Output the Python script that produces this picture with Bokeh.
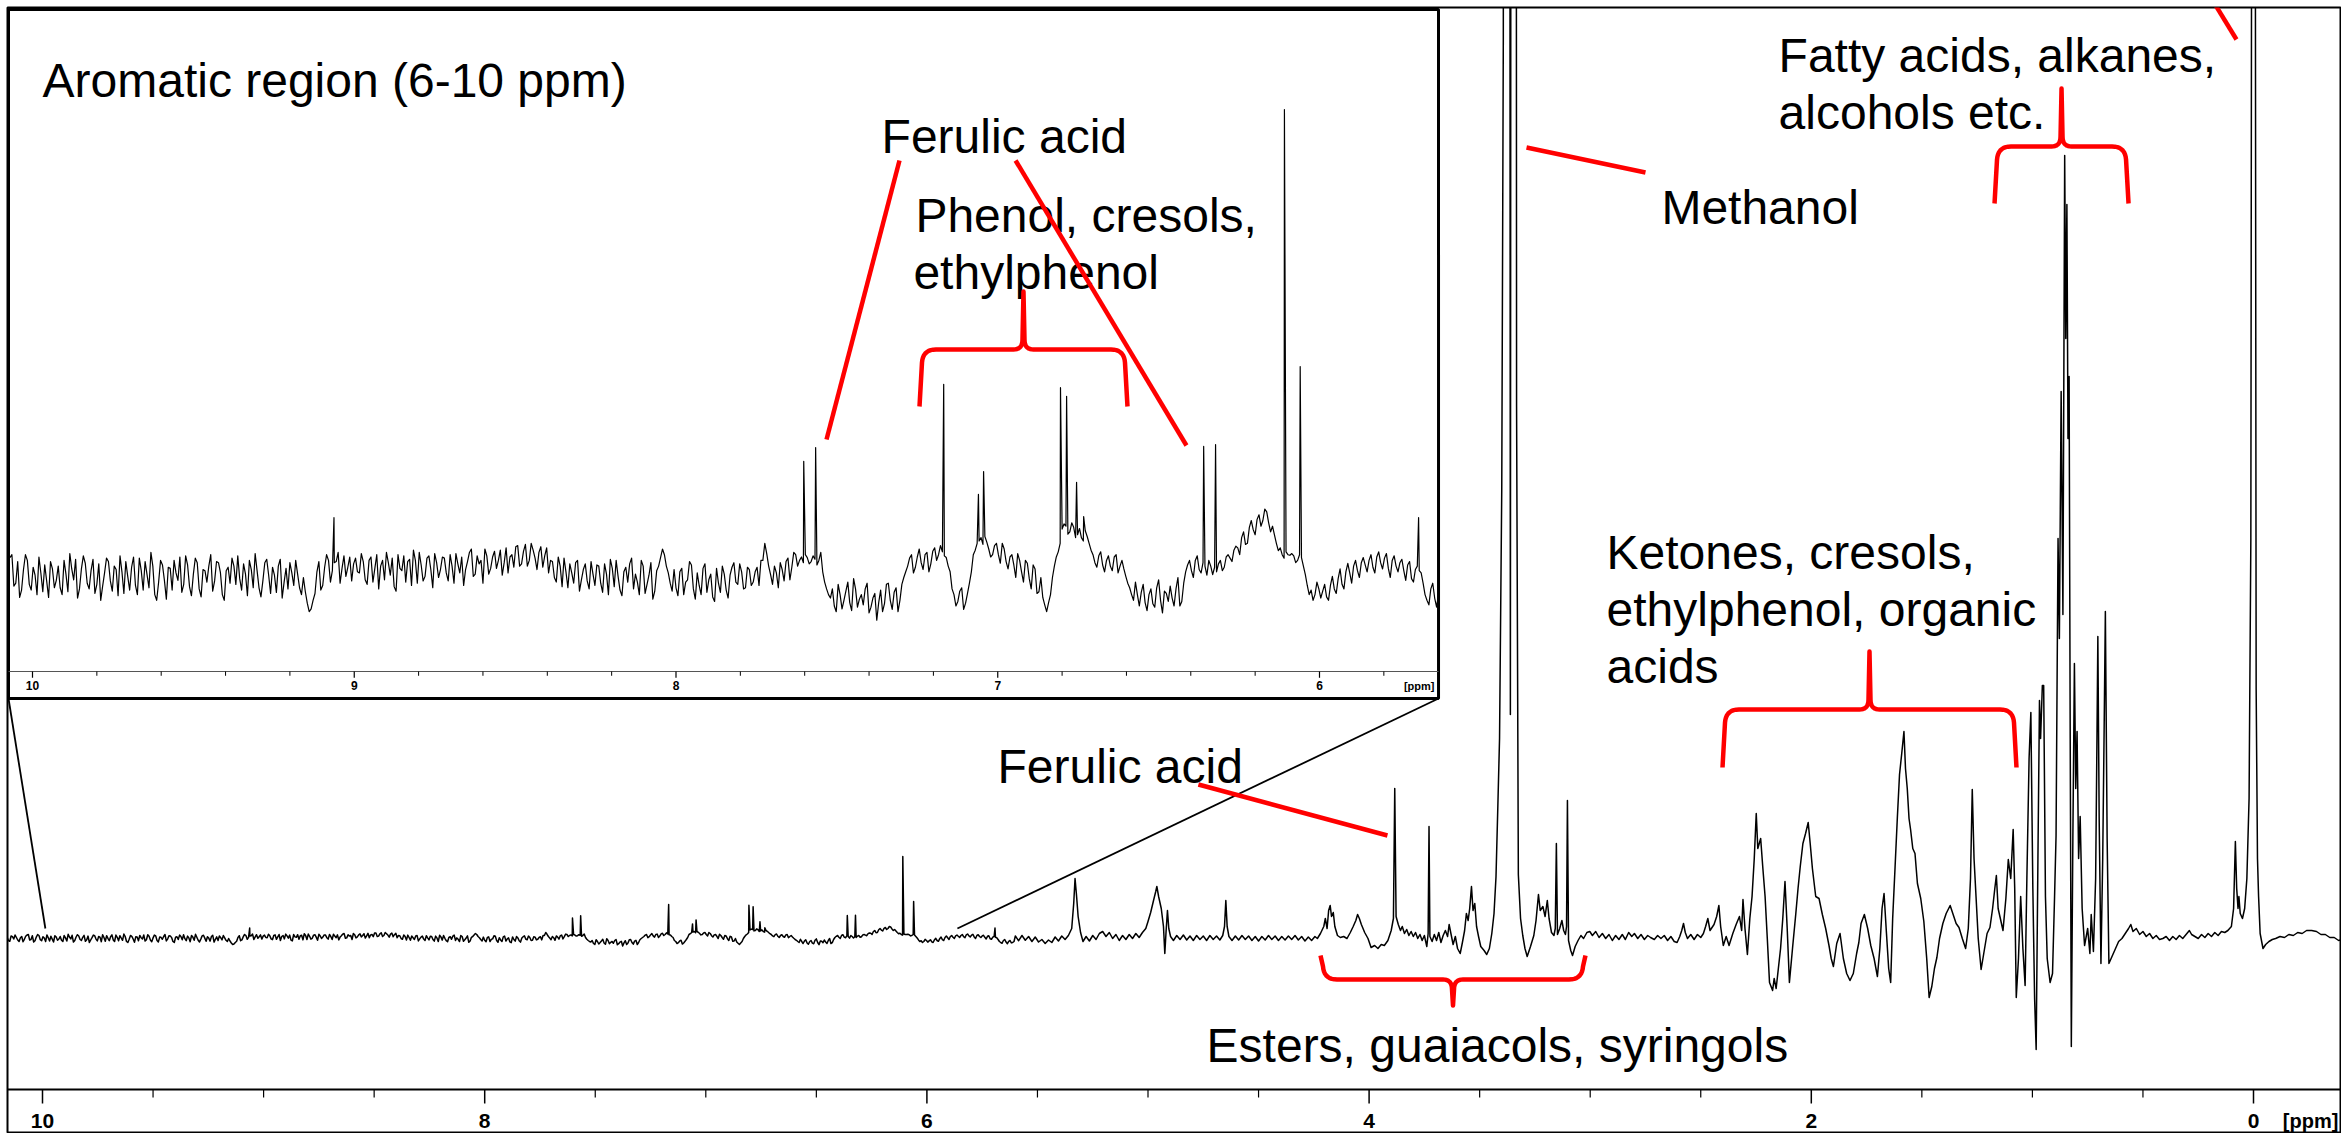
import numpy as np
from bokeh.plotting import figure
from bokeh.models import Range1d
from bokeh.core.properties import value
from bokeh.embed import file_html
from bokeh.resources import INLINE

# ---------------- data ----------------
# Aromatic part of the 1H spectrum, read on a 0.012 ppm grid from 10.16 ppm
# (A_TENTHS) plus the half-step samples between them (A_TENTHS_HALF);
# intensities in tenths of a main-plot unit
A_START = 10.16
A_STEP = 0.012
A_TENTHS = [
    12, -28, 18, 35, -15, 8, -32, 22, 40, -10, -35, 14, 30, -22, 4, 36, -25, -6, 28, -18,
    20, -30, 6, 42, -4, -36, 15, 25, -20, 32, -12, -40, 8, 28, -24, 14, 38, -28, 2, 18,
    -14, 34, -22, 5, 44, -30, -8, 22, -38, 16, 30, -5, -26, 38, -16, 6, 26, -34, 12, 20,
    -24, 28, 9, -40, 18, 34, -12, -2, 24, -32, 14, 42, -18, -6, 32, -28, 4, 20, -36, 16,
    26, -14, 6, -30, -25, -60, -40, 10, -22, 18, 30, 12, 28, -10, 38, 18, -6, 34, 8, 28,
    -12, 36, 16, -20, 30, 44, 4, -16, 40, 12, -8, 32, 48, -10, 22, 2, 38, -18, 26, 14,
    34, -6, 20, 42, 8, -14, 28, 50, 6, 24, -10, 38, 16, 46, 30, 4, 52, 36, 18, 56,
    24, 58, 30, 48, 14, 54, 38, 8, 28, -8, 20, 34, -18, 8, 26, -24, 14, -6, 28, -14,
    20, -26, 6, 32, -16, 2, -32, 18, 24, -20, -8, 30, -28, 4, -38, 12, 35, 40, 8, -24,
    -18, 10, -30, -4, 22, -38, -14, 16, -26, 6, -42, -10, 20, -22, 4, 26, -12, 10, -18, 14,
    -8, 18, 30, 60, 20, -12, 8, 26, -6, 34, 18, 40, 30, 26, 35, 28, 32, 30, 10, -20,
    -36, -50, -12, -55, -24, -44, -2, -52, -30, -20, -62, -36, -75, -22, -46, -10, -56, -18, -40, 0,
    20, 40, 18, 50, 14, 44, 24, 52, 40, 45, 35, 10, -30, -42, -18, -45, -10, 40, 60, 70,
    72, 50, 40, 60, 25, 50, 15, 40, 0, 30, -8, 25, -20, 15, -25, -35, -60, -30, 20, 45,
    85, 90, 80, 88, 75, 70, 82, 60, 40, 18, 45, 10, 38, 12, 40, 20, 15, -10, -30, -8,
    -50, -12, -58, -20, -52, -4, -62, -28, -15, -50, 0, -42, 10, 30, 0, 38, 8, 20, 30, 5,
    10, 30, 18, 40, 28, 55, 40, 80, 60, 100, 75, 110, 100, 115, 80, 75, 47, 40, 45, 39,
    38, 30, 35, 5, -30, -40, -8, -36, -12, -40, 2, -28, 15, -20, 25, -10, 30, 0, 35, 10,
    40, 8, 45, 15, 42, 0, 38, 10, 32, -5, 28, -8, 20, 8, -30, -48, -10, -52, -20, -40,
]
A_TENTHS_HALF = [
    -20, 25, -5, 10, -30, 20, -8, 35, -15, 28, -22, 40, -12, 18, -30, 8, 22, -35, 15, -5,
    -18, 30, -25, 15, 32, -20, 38, -10, 12, -28, 24, -15, 34, -6, 20, -32, 10, 28, -22, 36,
    -30, 12, 28, -18, 20, -40, 30, -5, 18, -22, 8, 36, -12, 22, -32, 34, -20, 14, -8, 40,
    -6, 26, -30, 12, -10, 20, 38, -22, 6, 30, -18, 12, -34, 26, 4, 18, -26, 32, -8, -20,
    8, 30, -18, 0, -45, -55, -28, 28, -14, 40, -8, 26, 44, 16, 2, 36, 24, 10, 42, -4,
    30, -8, 40, 20, -4, 26, 34, -24, 16, 38, 28, -14, 30, 44, -6, 34, 14, 42, 0, 36,
    8, 40, -10, 24, 36, 14, 44, 2, 38, 30, 50, 6, 36, 16, 48, 26, 8, 40, 54, 20,
    46, 20, 60, 34, 44, 18, 52, 30, 0, 36, -16, 10, 24, -10, 30, -4, 24, -20, 6, 22,
    -10, 24, -30, 16, 30, -22, 10, -8, 34, 6, -30, 20, -12, 26, -24, 20, 50, 20, -10, 14,
    -32, 16, -8, 28, -20, 8, -30, 24, -4, -34, 16, -26, 6, -36, 18, -8, 24, -20, 18, -14,
    10, -14, 30, 42, 5, 20, -18, 14, 28, -4, 44, 20, 36, 40, 24, 38, 22, 44, -8, -30,
    -20, -60, -30, -40, -8, -58, -20, -38, -48, -10, -52, -28, -44, -60, -12, -40, -26, -60, -12, 10,
    34, 8, 36, 26, 40, 10, 46, 30, 56, 38, 20, -20, -50, -24, -56, -28, 10, 48, 64, 58,
    62, 36, 56, 40, 60, 28, 36, 22, 42, 10, 30, -2, 22, -28, 0, -48, -44, 0, 36, 60,
    94, 76, 96, 70, 86, 64, 72, 48, 26, 38, 22, 30, 20, 36, 8, 30, 2, -18, -40, -30,
    -26, -44, -30, -46, -18, -40, -24, -42, -36, -20, -50, -10, 22, 12, 30, 14, 26, 4, 20, 18,
    24, 12, 36, 34, 48, 52, 70, 58, 88, 84, 102, 90, 120, 96, 90, 60, 52, 34, 40, 42,
    26, 40, 20, -14, -22, -30, -20, -24, -34, -14, -20, -2, -12, 10, 8, 20, 12, 26, 22, 30,
    18, 36, 26, 34, 16, 30, 20, 26, 12, 22, -2, 14, 12, -10, -40, -20, -36, -28, -44, -30,
]
# sharp aromatic lines (ppm, height)
A_PEAK_PPM = [9.063, 7.603, 7.566, 7.168, 7.060, 7.044, 6.805, 6.786, 6.755, 6.733,
              6.360, 6.323, 6.109, 6.060, 5.692]
A_PEAK_INT = [10.5, 20.4, 22.8, 33.9, 14.6, 18.6, 33.3, 31.8, 16.7, 10.7,
              23.0, 23.3, 82.1, 37.0, 10.5]

# aliphatic part of the spectrum: (ppm, intensity) vertices
SPEC_B = [
    (5.600, 2.5), (5.585, -2.2), (5.570, 3.0), (5.555, -1.8), (5.540, 2.0), (5.525, -3.0),
    (5.510, 1.5), (5.495, -3.5), (5.480, -1.0), (5.465, -5.0), (5.450, -1.5), (5.435, -4.0),
    (5.420, 1.5), (5.405, -2.5), (5.390, 2.5), (5.375, -1.0), (5.360, 3.0),
    (5.345, 10), (5.336, 35), (5.330, 60), (5.324, 45), (5.316, 22), (5.305, 6), (5.294, -3),
    (5.280, 2), (5.265, -2.5), (5.250, 3), (5.235, -1), (5.220, 5), (5.205, 7), (5.190, 2),
    (5.175, 6), (5.160, 0), (5.145, 4), (5.130, -2), (5.115, 3), (5.100, -1), (5.085, 4),
    (5.070, 0), (5.055, 5), (5.040, 1), (5.025, 6), (5.010, 10), (5.000, 17), (4.988, 26),
    (4.975, 38), (4.965, 47), (4.960, 52), (4.952, 42), (4.940, 30), (4.930, 12), (4.924, -15),
    (4.918, 8), (4.912, 28), (4.906, 10), (4.898, 2), (4.885, -2), (4.870, 3), (4.855, -1),
    (4.840, 3.5), (4.825, -1.5), (4.810, 2.5), (4.795, -2), (4.780, 3), (4.765, -1), (4.750, 2.5),
    (4.735, -2), (4.720, 3), (4.705, -1), (4.690, 2.5), (4.675, -1.5), (4.662, 3), (4.654, 12),
    (4.648, 38), (4.642, 12), (4.634, 2), (4.620, -2), (4.605, 2.5), (4.590, -1.5), (4.575, 3),
    (4.560, -1), (4.545, 2.5), (4.530, -2), (4.515, 2), (4.500, -2.5), (4.485, 2), (4.470, -1.5),
    (4.455, 3), (4.440, -1), (4.425, 2.5), (4.410, -2), (4.395, 2), (4.380, -1.5), (4.365, 2.5),
    (4.350, -1), (4.335, 3), (4.320, -1.5), (4.305, 2), (4.290, -2.5), (4.275, 1.5), (4.260, -2),
    (4.245, 2), (4.234, 0), (4.220, 5), (4.205, 12), (4.198, 20), (4.190, 10), (4.183, 28),
    (4.176, 33), (4.170, 22), (4.162, 26), (4.155, 12), (4.143, 3), (4.130, 1), (4.115, 2),
    (4.100, 0), (4.085, 6), (4.072, 12), (4.060, 18), (4.052, 24), (4.044, 20), (4.035, 14),
    (4.020, 6), (4.005, 0), (3.991, -9), (3.975, -7), (3.960, -10), (3.945, -6), (3.931, -7),
    (3.915, -2), (3.900, 8), (3.890, 20), (3.884, 150), (3.878, 22), (3.868, 14), (3.858, 8),
    (3.850, 12), (3.840, 5), (3.830, 9), (3.820, 3), (3.810, 7), (3.800, 2), (3.790, 6),
    (3.780, 0), (3.770, 4), (3.760, -2), (3.750, 3), (3.739, -8), (3.733, 5), (3.729, 112),
    (3.725, 2), (3.715, -3), (3.705, 4), (3.695, -2), (3.685, 6), (3.675, -4), (3.665, 3),
    (3.655, 8), (3.645, 2), (3.638, 14), (3.630, 5), (3.620, -6), (3.610, 2), (3.600, -10),
    (3.588, -15), (3.578, -4), (3.568, 8), (3.560, 25), (3.552, 18), (3.545, 30), (3.537, 52),
    (3.530, 28), (3.522, 35), (3.514, 12), (3.505, 2), (3.495, -8), (3.480, -12), (3.468, -16),
    (3.456, -10), (3.445, 5), (3.435, 25), (3.426, 62), (3.418, 130), (3.410, 200), (3.400, 450),
    (3.393, 900), (3.388, 3000), (3.368, 3000), (3.361, 224), (3.354, 3000), (3.338, 3000),
    (3.333, 532), (3.325, 64), (3.315, 20), (3.305, 3), (3.295, -10), (3.285, -18), (3.270, -8),
    (3.255, 3), (3.245, 18), (3.234, 44), (3.226, 28), (3.214, 32), (3.204, 22), (3.194, 38),
    (3.186, 20), (3.175, 6), (3.164, 3), (3.158, 10), (3.153, 95), (3.148, 4), (3.138, 10),
    (3.128, 18), (3.120, 8), (3.112, 4), (3.107, 12), (3.103, 138), (3.098, -2), (3.088, -12),
    (3.080, -17), (3.068, -8), (3.055, -2), (3.042, 3), (3.030, 0), (3.015, 6), (3.002, 7),
    (2.990, 3), (2.975, 7), (2.960, 1), (2.945, 5), (2.930, 0), (2.915, 4), (2.900, -2),
    (2.885, 3), (2.870, -1), (2.855, 4), (2.841, -1), (2.826, 6), (2.812, 2), (2.800, 5),
    (2.785, 0), (2.770, 4), (2.755, -1), (2.740, 3), (2.727, 1), (2.710, -1), (2.695, 3),
    (2.680, 0), (2.665, 3), (2.650, -2), (2.635, 2), (2.620, -3), (2.607, -4), (2.595, 2),
    (2.586, 8), (2.578, 15), (2.570, 6), (2.560, 0), (2.545, 4), (2.530, -1), (2.515, 4),
    (2.500, 1), (2.488, 5), (2.478, 12), (2.468, 20), (2.458, 8), (2.440, 14), (2.428, 22),
    (2.418, 33), (2.410, 12), (2.398, -7), (2.385, 2), (2.372, -7), (2.355, 5), (2.340, 14),
    (2.325, 22), (2.315, 8), (2.309, 39), (2.300, 10), (2.289, -16), (2.278, 20), (2.268, 42),
    (2.258, 80), (2.249, 125), (2.242, 90), (2.229, 100), (2.219, 70), (2.209, 42), (2.199, 0),
    (2.189, -44), (2.175, -52), (2.168, -40), (2.159, -50), (2.149, -30), (2.139, -10),
    (2.129, 20), (2.119, 57), (2.109, 10), (2.099, -44), (2.085, -10), (2.070, 25), (2.060, 50),
    (2.050, 72), (2.038, 95), (2.026, 105), (2.014, 116), (2.005, 95), (1.995, 70), (1.980, 42),
    (1.965, 40), (1.950, 24), (1.935, 10), (1.920, -7), (1.910, -20), (1.900, -28), (1.885, -5),
    (1.870, 5), (1.855, -20), (1.840, -35), (1.825, -42), (1.810, -35), (1.795, -15),
    (1.785, -4), (1.775, 15), (1.760, 24), (1.745, 10), (1.731, -7), (1.716, -20), (1.701, -38),
    (1.690, -10), (1.680, 30), (1.671, 45), (1.660, 5), (1.650, -30), (1.641, -44), (1.632, 20),
    (1.621, 72), (1.611, 120), (1.601, 164), (1.591, 185), (1.581, 207), (1.574, 170),
    (1.566, 150), (1.558, 120), (1.551, 109), (1.541, 90), (1.531, 85), (1.520, 55),
    (1.505, 40), (1.491, 17), (1.478, -20), (1.467, -59), (1.455, -48), (1.443, -30),
    (1.432, -19), (1.420, 0), (1.405, 15), (1.390, 25), (1.372, 33), (1.360, 25), (1.345, 15),
    (1.332, 11), (1.317, 0), (1.302, -10), (1.290, 10), (1.280, 60), (1.272, 149), (1.264, 80),
    (1.255, 42), (1.245, 0), (1.232, -31), (1.220, -15), (1.205, 5), (1.192, 11), (1.180, 30),
    (1.170, 50), (1.163, 63), (1.155, 30), (1.145, 20), (1.133, 8), (1.120, 40), (1.109, 79),
    (1.098, 60), (1.087, 109), (1.080, 50), (1.073, -59), (1.063, -20), (1.053, 42),
    (1.043, -10), (1.033, -47), (1.025, 60), (1.015, 180), (1.007, 226), (0.998, 50),
    (0.990, -60), (0.983, -111), (0.975, 80), (0.968, 238), (0.963, 200), (0.955, 253),
    (0.949, 253), (0.941, 42), (0.933, -20), (0.920, -44), (0.909, -35), (0.900, 40),
    (0.893, 103), (0.884, 400), (0.878, 300), (0.870, 547), (0.862, 324), (0.854, 783),
    (0.849, 600), (0.844, 734), (0.839, 500), (0.834, 562), (0.829, 200), (0.824, -108),
    (0.817, 100), (0.810, 275), (0.804, 150), (0.798, 207), (0.791, 80), (0.784, 122),
    (0.775, 30), (0.764, -7), (0.750, 10), (0.740, -15), (0.734, 24), (0.724, -13), (0.714, 60),
    (0.708, 200), (0.704, 302), (0.698, 120), (0.690, -25), (0.682, 80), (0.676, 200),
    (0.670, 327), (0.662, 100), (0.654, -25), (0.640, -18), (0.624, -10), (0.610, -3),
    (0.595, 0), (0.580, 5), (0.565, 10), (0.555, 14), (0.545, 7), (0.530, 10), (0.515, 4),
    (0.500, 7), (0.485, 2), (0.470, 5), (0.455, 0), (0.440, 3), (0.425, -1), (0.410, 0),
    (0.395, 2), (0.380, -2), (0.365, 2), (0.350, -1), (0.335, 3), (0.320, 0), (0.305, 4),
    (0.290, 8), (0.280, 4), (0.265, 2), (0.250, 0), (0.235, 4), (0.220, 1), (0.205, 5),
    (0.190, 2), (0.175, 6), (0.160, 3), (0.145, 7), (0.130, 6), (0.116, 8), (0.100, 12),
    (0.090, 30), (0.082, 97), (0.076, 50), (0.070, 30), (0.066, 42), (0.060, 25), (0.050, 20),
    (0.040, 30), (0.030, 60), (0.020, 140), (0.012, 400), (0.006, 1500), (0.003, 3000),
    (-0.003, 3000), (-0.006, 1500), (-0.012, 250), (-0.018, 80), (-0.023, 42), (-0.030, 5),
    (-0.043, -10), (-0.055, -6), (-0.070, -3), (-0.085, -1), (-0.100, 0), (-0.120, 2),
    (-0.140, 1), (-0.160, 4), (-0.180, 3), (-0.200, 6), (-0.220, 5), (-0.240, 8), (-0.263, 8),
    (-0.285, 7), (-0.305, 4), (-0.325, 4), (-0.345, 1), (-0.365, 1), (-0.385, -2), (-0.400, -1),
]

MAIN_TICKS = [10, 8, 6, 4, 2, 0]
MAIN_TICK_LABELS = ["10", "8", "6", "4", "2", "0"]
MAIN_MINOR_TICKS = [9.5, 9, 8.5, 7.5, 7, 6.5, 5.5, 5, 4.5, 3.5, 3, 2.5, 1.5, 1, 0.5]
INSET_TICKS = [10, 9, 8, 7, 6]
INSET_TICK_LABELS = ["10", "9", "8", "7", "6"]
INSET_MINOR_TICKS = [9.8, 9.6, 9.4, 9.2, 8.8, 8.6, 8.4, 8.2, 7.8, 7.6, 7.4, 7.2,
                     6.8, 6.6, 6.4, 6.2, 5.8]

# annotation texts: (text, ppm of left edge, baseline height in main units)
ANNOT_TEXT = ["Aromatic region (6-10 ppm)", "Ferulic acid", "Phenol, cresols,", "ethylphenol",
              "Methanol", "Fatty acids, alkanes,", "alcohols etc.", "Ketones, cresols,",
              "ethylphenol, organic", "acids", "Ferulic acid", "Esters, guaiacols, syringols"]
ANNOT_X = [10.0, 6.205, 6.052, 6.061, 2.678, 2.148, 2.148, 2.926, 2.926, 2.926, 5.681, 4.735]
ANNOT_Y = [858, 802, 723, 666, 731, 883, 826, 386, 329, 272, 172, -107]

# red pointer lines (x0, y0, x1, y1) in main coordinates
POINTERS = [(6.124, 778, 6.454, 499), (5.599, 778, 4.826, 493), (3.288, 791, 2.750, 766),
            (0.226, 953, 0.077, 899), (4.772, 154, 3.917, 103)]
# curly braces: (left ppm, right ppm, arm end, bar, tip)
BRACES = [(6.0335, 5.0928, 532, 589, 647), (1.1713, 0.5652, 735, 792, 850),
          (2.4016, 1.0720, 171, 229, 287), (4.2198, 3.0213, -17, -41, -67)]

# ---------------- assemble spectrum ----------------
pts = [(A_START - A_STEP * i, v / 10.0) for i, v in enumerate(A_TENTHS)]
pts += [(A_START - A_STEP * (i + 0.5), v / 10.0) for i, v in enumerate(A_TENTHS_HALF)]
pts += list(zip(A_PEAK_PPM, A_PEAK_INT))
pts += SPEC_B
pts.sort(key=lambda t: -t[0])
spec_ppm = [p[0] for p in pts]
spec_int = [p[1] for p in pts]

# inset box in main coordinates and the inset window (ppm)
BOX_L, BOX_R, BOX_B, BOX_T = 10.1538, 3.686, 240, 929
INSET_PPM_HI, INSET_PPM_LO = 10.0746, 5.630
ins = [(x, y) for x, y in pts if INSET_PPM_LO <= x <= INSET_PPM_HI]
ins_ppm = [p[0] for p in ins]
ins_int = [p[1] for p in ins]

# ---------------- figure ----------------
p = figure(width=2341, height=1133, output_backend="svg", toolbar_location=None,
           x_range=Range1d(10.1583, -0.398), y_range=Range1d(-195, 931),
           x_axis_location=None, y_axis_location=None,
           min_border_left=7, min_border_right=0, min_border_top=7, min_border_bottom=0)
p.extra_x_ranges = {"ix": Range1d(10.0777, 2.8236)}
p.extra_y_ranges = {"iy": Range1d(-97.54, 100.0)}
p.grid.visible = False
p.outline_line_color = "black"
p.outline_line_width = 2
p.background_fill_color = "white"
p.border_fill_color = "white"

# main ppm axis (drawn with the main scales)
AXIS_Y = -151
p.segment(x0=[10.1583], y0=[AXIS_Y], x1=[-0.398], y1=[AXIS_Y], line_color="black", line_width=2)
p.segment(x0=MAIN_TICKS, y0=[AXIS_Y] * 6, x1=MAIN_TICKS, y1=[AXIS_Y - 14] * 6,
          line_color="black", line_width=1.5)
p.segment(x0=MAIN_MINOR_TICKS, y0=[AXIS_Y] * len(MAIN_MINOR_TICKS), x1=MAIN_MINOR_TICKS,
          y1=[AXIS_Y - 8] * len(MAIN_MINOR_TICKS), line_color="black", line_width=1.2)
p.text(x=MAIN_TICKS, y=[-182] * 6, text=MAIN_TICK_LABELS,
       text_font=value("Liberation Sans"), text_font_style="bold",
       text_font_size="21px", text_align="center", text_baseline="middle",
       text_color="black")
p.text(x=[-0.384], y=[-182], text=["[ppm]"],
       text_font=value("Liberation Sans"), text_font_style="bold",
       text_font_size="20px", text_align="right", text_baseline="middle",
       text_color="black")

# main spectrum
p.line(spec_ppm, spec_int, line_color="black", line_width=1.5, line_join="round")

# inset box
p.quad(left=[BOX_L], right=[BOX_R], bottom=[BOX_B], top=[BOX_T],
       fill_color="white", line_color="black", line_width=3)

# inset spectrum (same data at higher gain)
p.line(ins_ppm, ins_int, x_range_name="ix", y_range_name="iy",
       line_color="black", line_width=1.2, line_join="round")

# inset axis drawn with the inset scales
AX_Y = -16.49
p.segment(x0=[INSET_PPM_HI], y0=[AX_Y], x1=[INSET_PPM_LO], y1=[AX_Y],
          x_range_name="ix", y_range_name="iy", line_color="#555555", line_width=1.2)
p.segment(x0=INSET_TICKS, y0=[AX_Y] * len(INSET_TICKS), x1=INSET_TICKS,
          y1=[AX_Y - 1.1] * len(INSET_TICKS), x_range_name="ix", y_range_name="iy",
          line_color="black", line_width=1.2)
p.segment(x0=INSET_MINOR_TICKS, y0=[AX_Y] * len(INSET_MINOR_TICKS), x1=INSET_MINOR_TICKS,
          y1=[AX_Y - 0.75] * len(INSET_MINOR_TICKS), x_range_name="ix", y_range_name="iy",
          line_color="black", line_width=1.0)
p.text(x=INSET_TICKS, y=[-18.95] * len(INSET_TICKS),
       text=INSET_TICK_LABELS, x_range_name="ix", y_range_name="iy",
       text_font=value("Liberation Sans"), text_font_style="bold",
       text_font_size="12px", text_align="center", text_baseline="middle", text_color="black")
p.text(x=[5.6426], y=[-18.95], text=["[ppm]"], x_range_name="ix", y_range_name="iy",
       text_font=value("Liberation Sans"), text_font_style="bold",
       text_font_size="11px", text_align="right", text_baseline="middle", text_color="black")

# zoom connectors
p.segment(x0=[BOX_L, BOX_R], y0=[BOX_B, BOX_B], x1=[9.987, 5.862], y1=[10, 10],
          line_color="black", line_width=1.8)

# annotation texts
p.text(x=ANNOT_X, y=ANNOT_Y, text=ANNOT_TEXT, text_font=value("Liberation Sans"),
       text_font_size="48px", text_color="black", text_align="left",
       text_baseline="alphabetic")

# red pointers and braces
RED = "#ff0000"
p.segment(x0=[r[0] for r in POINTERS], y0=[r[1] for r in POINTERS],
          x1=[r[2] for r in POINTERS], y1=[r[3] for r in POINTERS],
          line_color=RED, line_width=4.5)

PX_PER_PPM = 221.1


def brace_path(x_left, x_right, y_arm, y_bar, y_tip, r=13.0, rt=10.0):
    w = (x_left - x_right) * PX_PER_PPM
    d = 1.0 if y_tip > y_bar else -1.0

    def qb(p0, p1, p2, n=10):
        out = []
        for t in np.linspace(0, 1, n):
            out.append(((1 - t) ** 2 * p0[0] + 2 * (1 - t) * t * p1[0] + t ** 2 * p2[0],
                        (1 - t) ** 2 * p0[1] + 2 * (1 - t) * t * p1[1] + t ** 2 * p2[1]))
        return out
    half = [(0.0, y_arm)]
    half += qb((2.5, y_bar - d * r), (3.5, y_bar), (3.5 + r, y_bar))
    half += qb((w / 2 - rt, y_bar), (w / 2 - 1.0, y_bar), (w / 2 - 1.0, y_bar + d * rt))
    half += [(w / 2, y_tip)]
    mirror = [(w - px, py) for px, py in reversed(half)]
    path = half + mirror[1:]
    return [x_left - px / PX_PER_PPM for px, _ in path], [py for _, py in path]


bx, by = [], []
for b in BRACES:
    xs, ys = brace_path(*b)
    bx.append(xs)
    by.append(ys)
p.multi_line(xs=bx, ys=by, line_color=RED, line_width=4.5, line_join="round")

open("out.html", "w").write(file_html(p, INLINE))
